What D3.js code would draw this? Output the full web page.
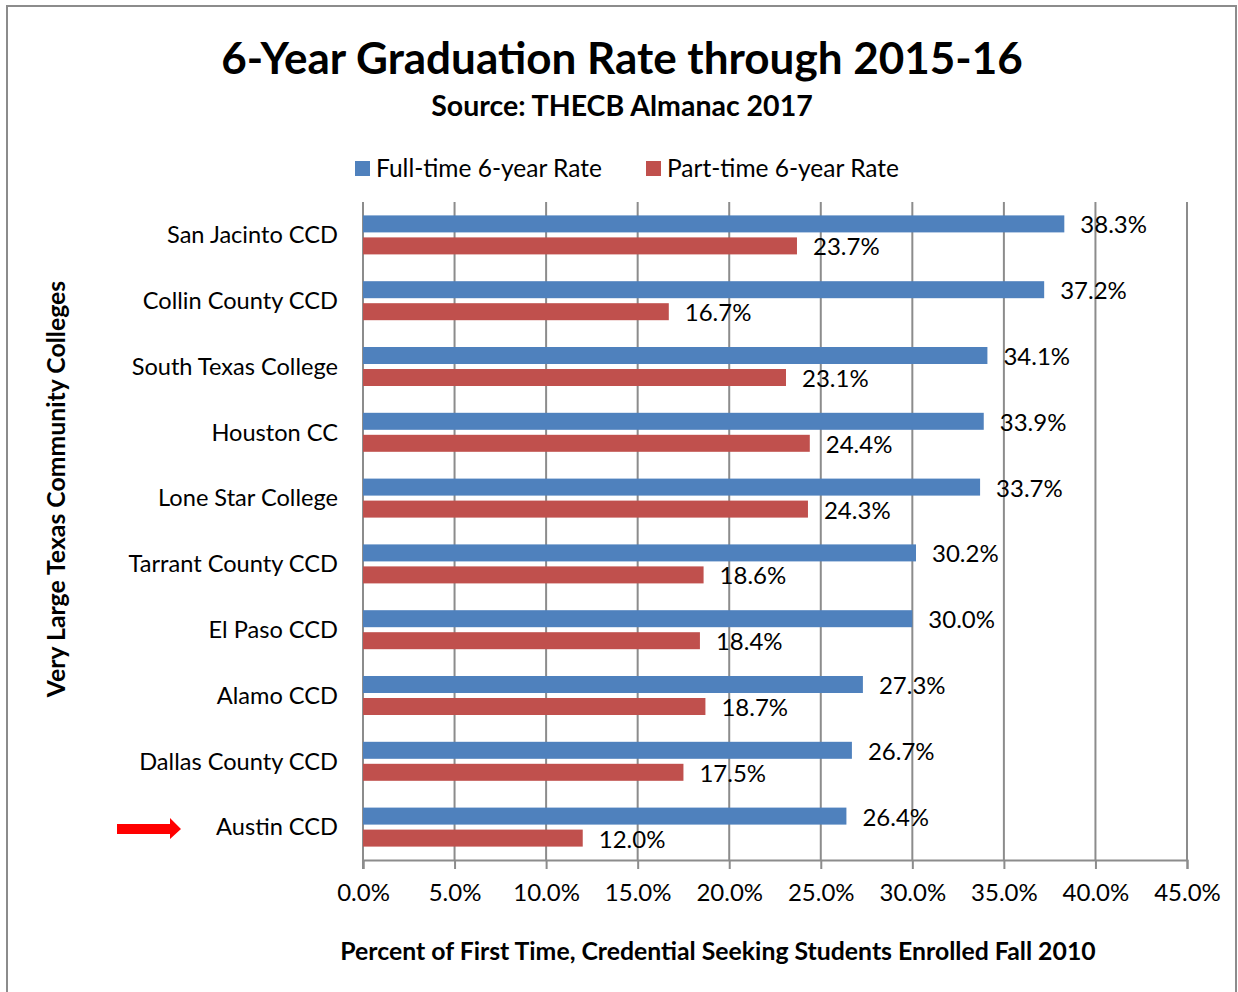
<!DOCTYPE html>
<html>
<head>
<meta charset="utf-8">
<script src="https://cdn.jsdelivr.net/npm/d3@7"></script>
<style>
  body { margin: 0; background: #fff; }
  svg text { font-family: Lato, "Open Sans", sans-serif; fill: #000; }
</style>
</head>
<body>
<div id="chart"></div>
<script>

// data
var colleges = ['San Jacinto CCD', 'Collin County CCD', 'South Texas College', 'Houston CC',
    'Lone Star College', 'Tarrant County CCD', 'El Paso CCD', 'Alamo CCD',
    'Dallas County CCD', 'Austin CCD'];
var fullTime = [38.3, 37.2, 34.1, 33.9, 33.7, 30.2, 30.0, 27.3, 26.7, 26.4];
var partTime = [23.7, 16.7, 23.1, 24.4, 24.3, 18.6, 18.4, 18.7, 17.5, 12.0];
var seriesNames = ['Full-time 6-year Rate', 'Part-time 6-year Rate'];
var xTicks = [0, 5, 10, 15, 20, 25, 30, 35, 40, 45];

var colors = ['#4f81bd', '#c0504d'];

var W = 1238, H = 992;
var margin = { top: 202, left: 363, right: 51, bottom: 132 },
    w = W - margin.left - margin.right,
    h = H - margin.top - margin.bottom;

var svg = d3.select('#chart')
    .append('svg')
    .attr('width', W)
    .attr('height', H);

// outer frame
svg.append('rect')
    .attr('x', 7).attr('y', 6)
    .attr('width', 1229).attr('height', 1000)
    .attr('fill', 'none')
    .attr('stroke', '#8c8c8c')
    .attr('stroke-width', 2);

// titles
svg.append('text')
    .attr('x', 622).attr('y', 74)
    .attr('text-anchor', 'middle')
    .style('font-size', '44px')
    .style('font-weight', 'bold')
    .text('6-Year Graduation Rate through 2015-16');

svg.append('text')
    .attr('x', 622).attr('y', 116)
    .attr('text-anchor', 'middle')
    .style('font-size', '28.5px')
    .style('font-weight', 'bold')
    .text('Source: THECB Almanac 2017');

// legend
var legend = svg.append('g');
var legendX = [355, 646];
seriesNames.forEach(function (name, i) {
    legend.append('rect')
        .attr('x', legendX[i]).attr('y', 161)
        .attr('width', 15).attr('height', 15)
        .attr('fill', colors[i]);
    legend.append('text')
        .attr('x', legendX[i] + 21).attr('y', 177)
        .style('font-size', '24.5px')
        .text(name);
});

var g = svg.append('g')
    .attr('transform', `translate(${margin.left},${margin.top})`);

var x = d3.scaleLinear()
    .domain([0, 45])
    .range([0, w]);

var y = d3.scaleBand()
    .domain(colleges)
    .range([0, h]);

// gridlines
g.append('g').selectAll('line')
    .data(xTicks.slice(1))
    .enter().append('line')
    .attr('x1', d => x(d)).attr('x2', d => x(d))
    .attr('y1', 0).attr('y2', h)
    .attr('stroke', '#8c8c8c')
    .attr('stroke-width', 2);

// x axis
var xAxis = d3.axisBottom(x)
    .tickValues(xTicks)
    .tickSize(9)
    .tickPadding(15)
    .tickFormat(d => d.toFixed(1) + '%');

var xg = g.append('g')
    .attr('transform', `translate(0,${h})`)
    .call(xAxis);
xg.select('.domain').attr('stroke', '#8c8c8c').attr('stroke-width', 2);
xg.selectAll('.tick line').attr('stroke', '#8c8c8c').attr('stroke-width', 2);
xg.selectAll('.tick text').style('font-size', '24px').attr('fill', '#000');

// y axis line
g.append('line')
    .attr('x1', 0).attr('x2', 0)
    .attr('y1', 0).attr('y2', h + 9)
    .attr('stroke', '#8c8c8c')
    .attr('stroke-width', 2);

// category labels
g.append('g').selectAll('text')
    .data(colleges)
    .enter().append('text')
    .attr('x', -25)
    .attr('y', d => y(d) + y.bandwidth() / 2)
    .attr('dy', '0.35em')
    .attr('text-anchor', 'end')
    .style('font-size', '23.6px')
    .text(d => d);

// bars
var barH = 17, gap = 5;
var series = [fullTime, partTime];
series.forEach(function (vals, s) {
    var off = y.bandwidth() / 2 - (barH * 2 + gap) / 2 + s * (barH + gap);
    g.append('g').selectAll('rect')
        .data(vals)
        .enter().append('rect')
        .attr('x', 0)
        .attr('y', (d, i) => y(colleges[i]) + off)
        .attr('width', d => x(d))
        .attr('height', barH)
        .attr('fill', colors[s]);

    g.append('g').selectAll('text')
        .data(vals)
        .enter().append('text')
        .attr('x', d => x(d) + 16)
        .attr('y', (d, i) => y(colleges[i]) + off + barH / 2 + 1)
        .attr('dy', '0.35em')
        .style('font-size', '24px')
        .text(d => d.toFixed(1) + '%');
});

// axis titles
svg.append('text')
    .attr('x', 718).attr('y', 960)
    .attr('text-anchor', 'middle')
    .style('font-size', '24.8px')
    .style('font-weight', 'bold')
    .text('Percent of First Time, Credential Seeking Students Enrolled Fall 2010');

svg.append('text')
    .attr('transform', 'translate(65,489) rotate(-90)')
    .attr('text-anchor', 'middle')
    .style('font-size', '24.8px')
    .style('font-weight', 'bold')
    .text('Very Large Texas Community Colleges');

// arrow pointing at Austin CCD
svg.append('path')
    .attr('d', 'M117,824 L170,824 L170,818 L181,829 L170,839 L170,834 L117,834 Z')
    .attr('fill', '#ff0000');

</script>
</body>
</html>
